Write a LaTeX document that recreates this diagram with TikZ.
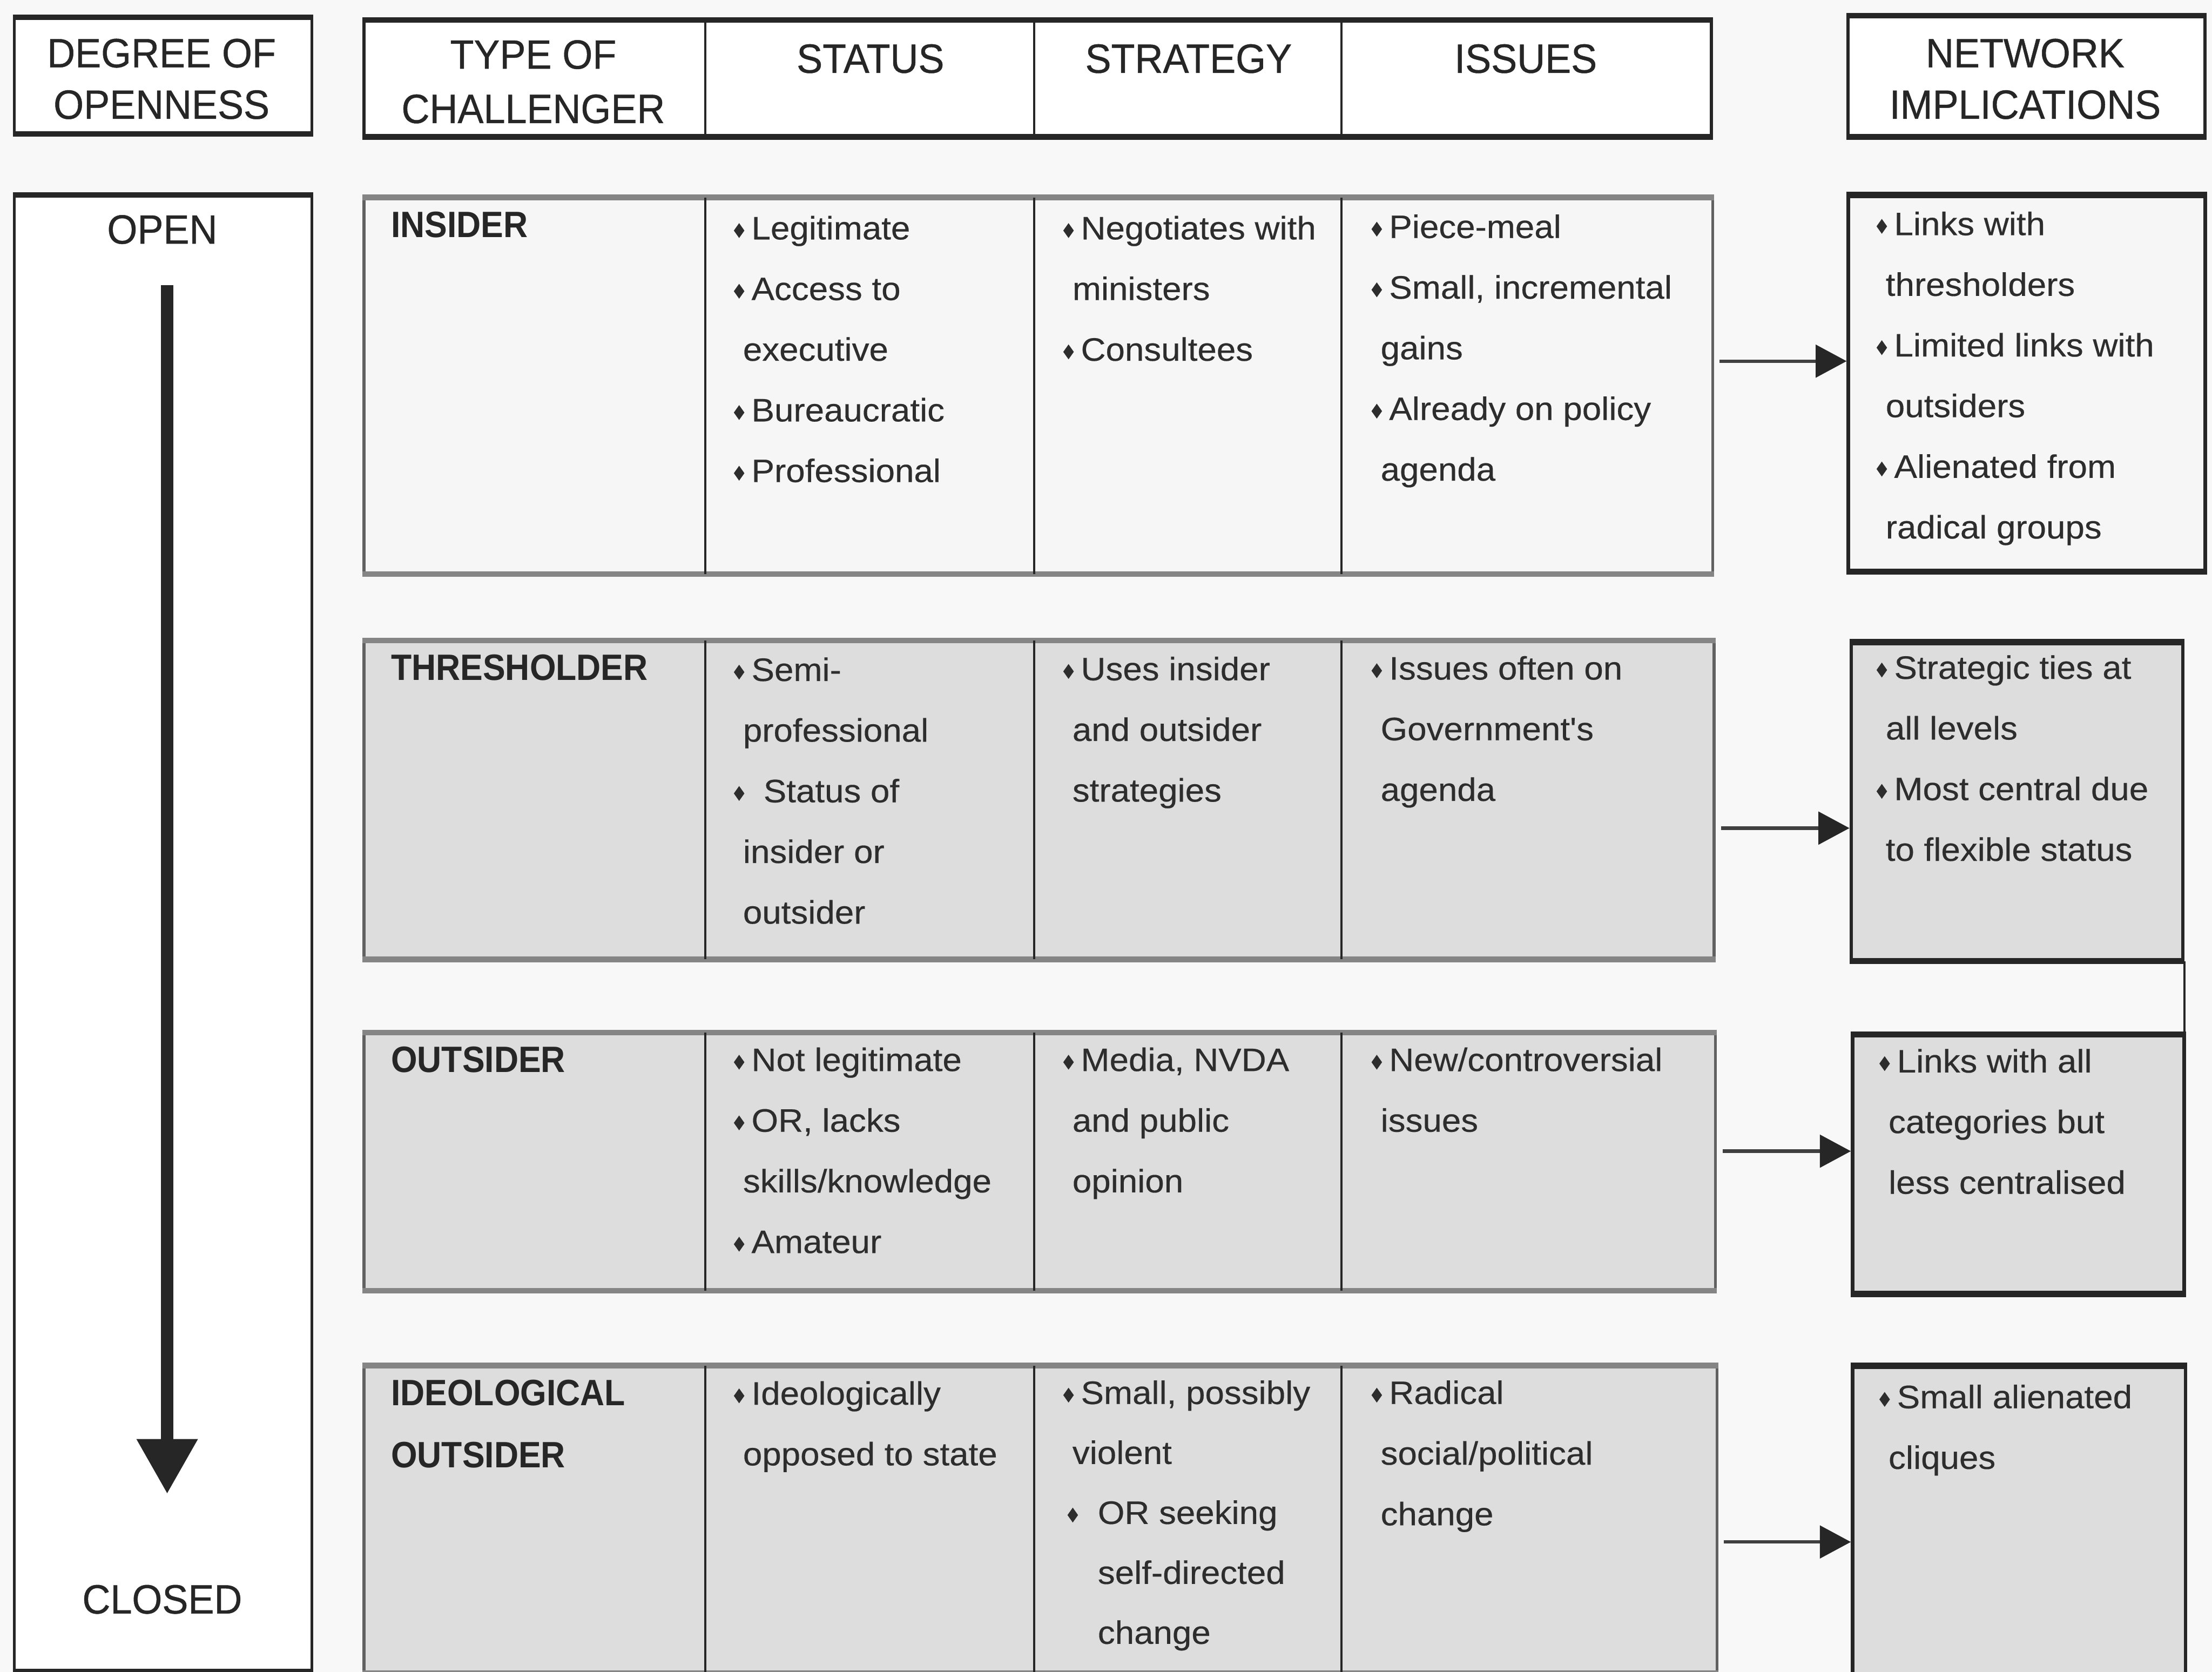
\documentclass[tikz,border=0pt]{standalone}
\usepackage{fontspec}
\usepackage{graphicx}
\setmainfont{Liberation Sans}
\newfontfamily\hdrfont[FakeStretch=0.95,FakeBold=0.6]{Liberation Sans}
\newfontfamily\bodyfont[FakeStretch=1.06,FakeBold=0.35]{Liberation Sans}
\newfontfamily\titlefont[FakeStretch=0.92]{Liberation Sans}
\usetikzlibrary{arrows.meta}

\definecolor{paper}{RGB}{248,248,248}
\definecolor{rowlight}{RGB}{246,246,246}
\definecolor{rowgray}{RGB}{221,221,221}
\definecolor{ink}{RGB}{38,38,38}
\definecolor{bodyink}{RGB}{45,45,45}

% small diamond bullet
\newcommand\dmd{\raisebox{1pt}{\scalebox{0.88}[1.24]{\rotatebox{45}{\rule{6pt}{6pt}}}}}
\newcommand\bi{\makebox[12.5pt][l]{\dmd}}
\newcommand\ct{\hspace*{6.5pt}}
\newcommand\fl{\rule{0pt}{20pt}}
\newcommand\hl{\rule{0pt}{24pt}}
\newcommand\tl{\rule{0pt}{22pt}}

\begin{document}
\begin{tikzpicture}[x=1pt,y=-1pt,
  hbox/.style={draw=ink, line width=2.2pt, fill=white, inner sep=0pt, anchor=north west},
  hedge/.style={draw=ink, line width=3.6pt},
  rbox/.style={draw=black!62, line width=2pt, inner sep=0pt, anchor=north west},
  redge/.style={draw=black!48, line width=4pt},
  nbox/.style={draw=ink, line width=2.5pt, inner sep=0pt, anchor=north west},
  nedge/.style={draw=ink, line width=4pt},
  divider/.style={draw=ink, line width=1.6pt},
  hdrtext/.style={anchor=north, inner sep=0pt, align=center, text=ink,
    font=\hdrfont\fontsize{29}{36.5}\selectfont},
  titletext/.style={anchor=north west, inner sep=0pt, align=left, text=ink,
    font=\titlefont\bfseries\fontsize{26}{44}\selectfont},
  cell/.style={anchor=north west, inner sep=0pt, align=left, text=bodyink,
    font=\bodyfont\fontsize{23}{43}\selectfont},
  link/.style={draw=black!75, line width=2.4pt, shorten <=4pt,
    -{Triangle[length=22pt,width=23pt,color=ink]}},
  joinline/.style={draw=ink, line width=1.8pt},
  openarrow/.style={draw=ink, line width=9pt, -{Triangle[length=39pt,width=41pt]}}
]
% page
\useasboundingbox (0,0) rectangle (1568,1185);
\fill[paper] (0,0) rectangle (1568,1185);

% column positions
\coordinate (c1) at (500,0);
\coordinate (c2) at (733,0);
\coordinate (c3) at (951,0);

% ---------- header row ----------
\node[hbox, minimum width=211pt, minimum height=81pt] (hdeg) at (9,12) {};
\draw[hedge] (hdeg.north west) -- (hdeg.north east);
\draw[hedge] (hdeg.south west) -- (hdeg.south east);
\node[hdrtext] (hdegt) at (114.5,23.5) {\hl DEGREE OF\\OPENNESS};

\node[hbox, minimum width=955pt, minimum height=81pt] (htab) at (257,14) {};
\draw[hedge] (htab.north west) -- (htab.north east);
\draw[hedge] (htab.south west) -- (htab.south east);
\foreach \c in {c1,c2,c3}
  \draw[divider] (htab.north -| \c) -- (htab.south -| \c);
\node[hdrtext, font=\hdrfont\fontsize{29}{38.5}\selectfont] (htype) at (378,24.5) {\hl TYPE OF\\CHALLENGER};
\node[hdrtext] (hstatus) at (617,27.4) {\hl STATUS};
\node[hdrtext] (hstrat) at (842.5,27.4) {\hl STRATEGY};
\node[hdrtext] (hissues) at (1081.5,27.4) {\hl ISSUES};

\node[hbox, minimum width=253pt, minimum height=84pt] (hnet) at (1309,11) {};
\draw[hedge] (hnet.north west) -- (hnet.north east);
\draw[hedge] (hnet.south west) -- (hnet.south east);
\node[hdrtext] (hnett) at (1435.5,23.5) {\hl NETWORK\\IMPLICATIONS};

% ---------- openness scale ----------
\node[hbox, minimum width=211pt, minimum height=1045pt] (scale) at (9,138) {};
\draw[hedge] (scale.north west) -- (scale.north east);
\draw[hedge] (scale.south west) -- (scale.south east);
\node[hdrtext] (open) at (115,148.5) {\hl OPEN};
\node[hdrtext] (closed) at (115,1119.5) {\hl CLOSED};
\coordinate (atop) at (118.5,202);
\coordinate (abot) at (118.5,1059);
\draw[openarrow] (atop) -- (abot);

% ---------- rows ----------
\node[rbox, fill=rowlight, minimum width=956pt, minimum height=265pt] (insrow) at (257,140) {};
\node[rbox, fill=rowgray, minimum width=957pt, minimum height=224pt] (thrrow) at (257,454) {};
\node[rbox, fill=rowgray, minimum width=958pt, minimum height=181pt] (outrow) at (257,732) {};
\node[rbox, fill=rowgray, minimum width=959pt, minimum height=216pt] (idrow) at (257,968) {};
\foreach \r in {insrow,thrrow,outrow,idrow}{
  \draw[redge] (\r.north west) -- (\r.north east);
  \draw[redge] (\r.south west) -- (\r.south east);
  \foreach \c in {c1,c2,c3}
    \draw[divider] (\r.north -| \c) -- (\r.south -| \c);
}

% ---------- network implication boxes ----------
\node[nbox, fill=rowlight, minimum width=253pt, minimum height=265pt] (insnet) at (1309,138) {};
\node[nbox, fill=rowgray, minimum width=235pt, minimum height=224pt] (thrnet) at (1311,455) {};
\node[nbox, fill=rowgray, minimum width=235pt, minimum height=182pt] (outnet) at (1312,733) {};
\node[nbox, fill=rowgray, minimum width=236pt, minimum height=217pt] (idnet) at (1312,968) {};
\foreach \r in {insnet,thrnet,outnet,idnet}{
  \draw[nedge] (\r.north west) -- (\r.north east);
  \draw[nedge] (\r.south west) -- (\r.south east);
}
\draw[joinline] (thrnet.south east) -- (thrnet.south east |- outnet.north);

% ---------- row arrows ----------
\coordinate (y1) at (0,256);
\coordinate (y2) at (0,587);
\coordinate (y3) at (0,816);
\coordinate (y4) at (0,1093);
\draw[link] (insrow.east |- y1) -- (insnet.west |- y1);
\draw[link] (thrrow.east |- y2) -- (thrnet.west |- y2);
\draw[link] (outrow.east |- y3) -- (outnet.west |- y3);
\draw[link] (idrow.east |- y4) -- (idnet.west |- y4);

% ---------- insider ----------
\node[titletext] (t-ins) at (277,146) {\tl INSIDER};
\node[cell] (s-ins) at (520,149.5) {\fl\bi Legitimate\\\bi Access to\\\ct executive\\\bi Bureaucratic\\\bi Professional};
\node[cell] (g-ins) at (753.5,149.5) {\fl\bi Negotiates with\\\ct ministers\\\bi Consultees};
\node[cell] (i-ins) at (972,148.5) {\fl\bi Piece-meal\\\bi Small, incremental\\\ct gains\\\bi Already on policy\\\ct agenda};
\node[cell] (n-ins) at (1330,146.5) {\fl\bi Links with\\\ct thresholders\\\bi Limited links with\\\ct outsiders\\\bi Alienated from\\\ct radical groups};

% ---------- thresholder ----------
\node[titletext] (t-thr) at (277,460) {\tl THRESHOLDER};
\node[cell] (s-thr) at (520,462.5) {\fl\bi Semi-\\\ct professional\\\makebox[21pt][l]{\dmd}Status of\\\ct insider or\\\ct outsider};
\node[cell] (g-thr) at (753.5,462) {\fl\bi Uses insider\\\ct and outsider\\\ct strategies};
\node[cell] (i-thr) at (972,461.5) {\fl\bi Issues often on\\\ct Government's\\\ct agenda};
\node[cell] (n-thr) at (1330,461) {\fl\bi Strategic ties at\\\ct all levels\\\bi Most central due\\\ct to flexible status};

% ---------- outsider ----------
\node[titletext] (t-out) at (277,738) {\tl OUTSIDER};
\node[cell] (s-out) at (520,739) {\fl\bi Not legitimate\\\bi OR, lacks\\\ct skills/knowledge\\\bi Amateur};
\node[cell] (g-out) at (753.5,739) {\fl\bi Media, NVDA\\\ct and public\\\ct opinion};
\node[cell] (i-out) at (972,739) {\fl\bi New/controversial\\\ct issues};
\node[cell] (n-out) at (1332,740) {\fl\bi Links with all\\\ct categories but\\\ct less centralised};

% ---------- ideological outsider ----------
\node[titletext] (t-id) at (277,974) {\tl IDEOLOGICAL\\OUTSIDER};
\node[cell] (s-id) at (520,975.5) {\fl\bi Ideologically\\\ct opposed to state};
\node[cell, font=\bodyfont\fontsize{23}{42.5}\selectfont] (g-id) at (753.5,975) {\fl\bi Small, possibly\\\ct violent\\\hspace*{3pt}\makebox[21.5pt][l]{\dmd}OR seeking\\\hspace*{24.5pt}self-directed\\\hspace*{24.5pt}change};
\node[cell] (i-id) at (972,975) {\fl\bi Radical\\\ct social/political\\\ct change};
\node[cell] (n-id) at (1332,978) {\fl\bi Small alienated\\\ct cliques};
\end{tikzpicture}
\end{document}
